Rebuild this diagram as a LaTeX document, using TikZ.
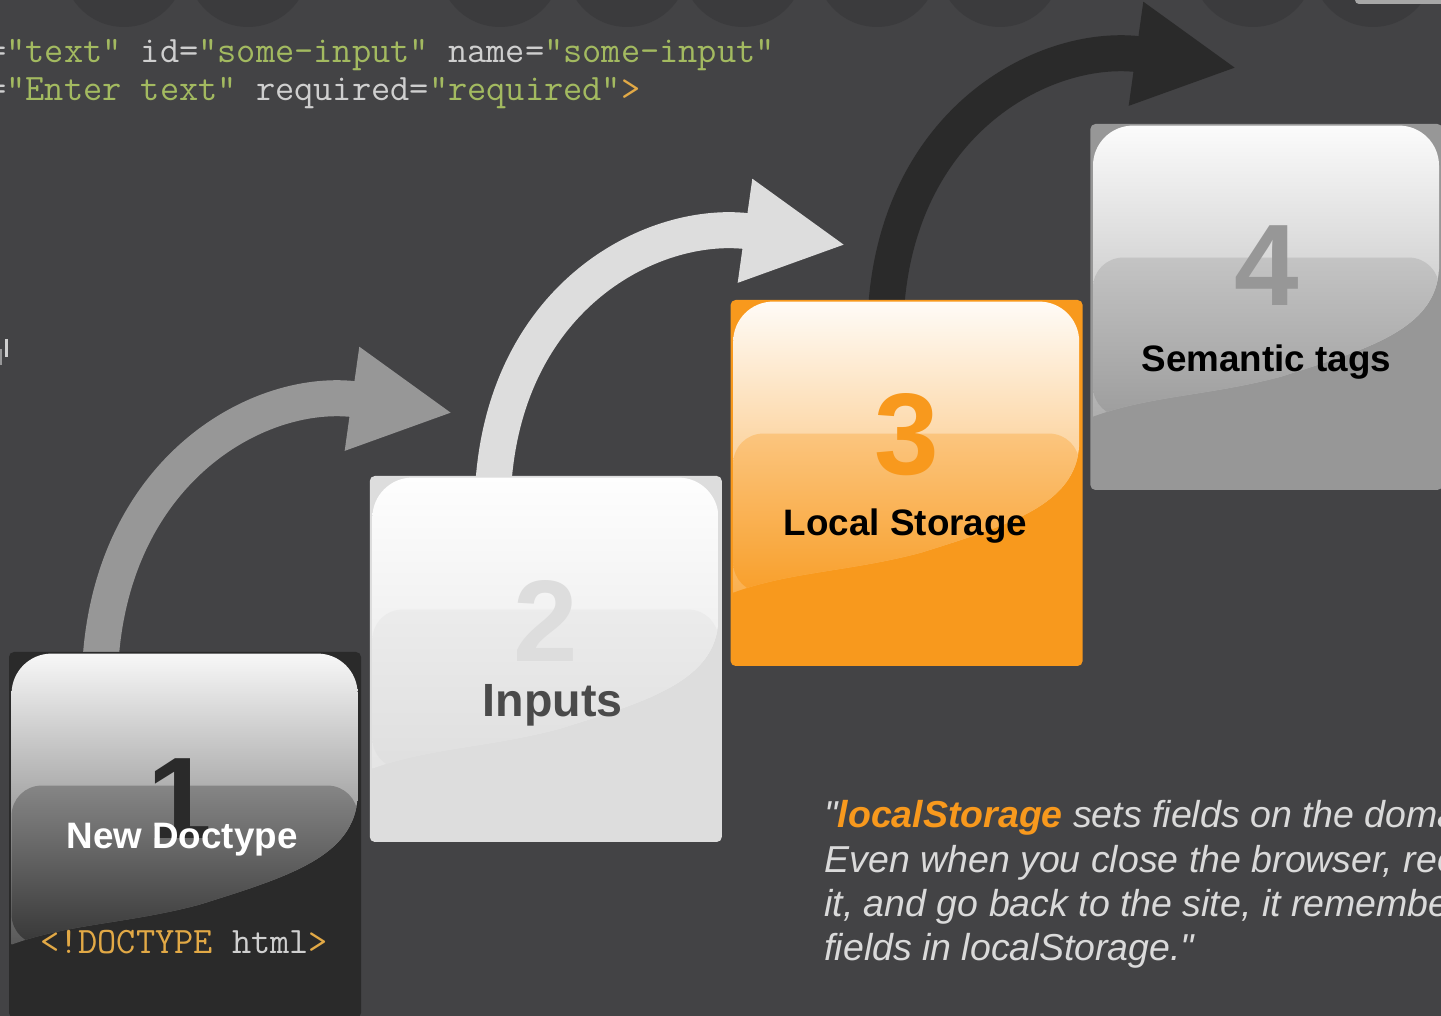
\documentclass[tikz,border=0pt]{standalone}
\usepackage{fontspec}
\setmainfont{Liberation Sans}
\usetikzlibrary{positioning,arrows.meta,backgrounds}

\definecolor{bgcol}{HTML}{434345}
\definecolor{dotcol}{HTML}{3B3B3D}
\definecolor{boxdark}{HTML}{2A2A2A}
\definecolor{boxlight}{HTML}{DDDDDD}
\definecolor{boxorange}{HTML}{F8991D}
\definecolor{boxgrey}{HTML}{979797}
\definecolor{codegreen}{HTML}{A3BA60}
\definecolor{codeattr}{HTML}{CFCFCF}
\definecolor{codetag}{HTML}{E2A946}
\definecolor{quotecol}{HTML}{DADADA}

\newcommand{\boxgloss}[2]{%
  \begin{scope}[shift={(#1.north west)}]
    \path[clip] (3,-293) -- (3,-42) arc[start angle=180,end angle=90,radius=40]
      -- (309,-2) arc[start angle=90,end angle=0,radius=40]
      -- (349,-145) .. controls (346,-205) and (280,-225) .. (191,-253)
      .. controls (120,-272) and (60,-272) .. (3,-293) -- cycle;
    \shade[top color=white!97!#2, bottom color=white!22!#2] (0,0) rectangle (352,-293);
    \shade[top color=white!43!#2, bottom color=white!6!#2, rounded corners=15pt] (3,-293) rectangle (349,-134);
  \end{scope}}

\tikzset{
  stepbox/.style={minimum width=176pt, minimum height=183pt, inner sep=0pt, rounded corners=2.5pt},
  digit/.style={anchor=base, inner sep=0pt, font=\fontsize{58}{60}\selectfont\bfseries},
  steplabel/.style={anchor=base, inner sep=0pt, font=\fontsize{18.4}{22}\selectfont\bfseries},
  code/.style={anchor=base west, inner sep=0pt, text=codeattr, font=\fontsize{18.65}{22}\selectfont\ttfamily},
  quoteline/.style={anchor=base west, inner sep=0pt, text=quotecol, font=\fontsize{18.75}{22}\selectfont\itshape},
  flow/.style={line width=18pt, -{Triangle[length=51pt,width=48.5pt]}},
}

\begin{document}
\begin{tikzpicture}[x=0.5pt, y=0.5pt]
  \useasboundingbox (0,0) rectangle (1441,1016);
  \begin{pgfonlayer}{background}
    \fill[bgcol] (0,0) rectangle (1441,1016);
    \foreach \cx in {124,248,500,627,743,877,1000,1253,1373}
      \fill[dotcol] (\cx,1050) circle[radius=61];
    \fill[boxgrey!85!white, rounded corners=2pt] (1355,1012) rectangle (1450,1022);
    \fill[codeattr] (5,659) rectangle (8,677);
    \fill[codeattr!60!bgcol] (0,651) rectangle (1.5,667);
  \end{pgfonlayer}

  \node[code] (code1) at (-13.2,953) {=\textcolor{codegreen}{"text"} id=\textcolor{codegreen}{"some-input"} name=\textcolor{codegreen}{"some-input"}};
  \node[code] (code2) at (-13.2,915) {=\textcolor{codegreen}{"Enter text"} required=\textcolor{codegreen}{"required"}\textcolor{codetag}{>}};

  \node[stepbox, fill=boxdark] (box1) at (185,181) {};
  \boxgloss{box1}{boxdark}
  \node[digit, text=boxdark] (num1) at ([shift={(-5,-187)}]box1.north) {1};
  \node[steplabel, text=white] (lab1) at ([shift={(-3,-197)}]box1.north) {New Doctype};
  \node[code] (doctype) at ([shift={(31,-302)}]box1.north west) {\textcolor{codetag}{<!DOCTYPE} html\textcolor{codetag}{>}};

  \node[stepbox, fill=boxlight, right=4pt of box1, yshift=88pt] (box2) {};
  \boxgloss{box2}{boxlight}
  \node[digit, text=boxlight] (num2) at ([shift={(0,-186)}]box2.north) {2};
  \node[steplabel, text=boxdark!85!white, font=\fontsize{23.3}{26}\selectfont\bfseries] (lab2) at ([shift={(7,-241)}]box2.north) {Inputs};

  \node[stepbox, fill=boxorange, right=4pt of box2, yshift=88pt] (box3) {};
  \boxgloss{box3}{boxorange}
  \node[digit, text=boxorange] (num3) at ([shift={(0,-175)}]box3.north) {3};
  \node[steplabel, text=black] (lab3) at ([shift={(-1,-236)}]box3.north) {Local Storage};

  \node[stepbox, fill=boxgrey, right=3.5pt of box3, yshift=88pt] (box4) {};
  \boxgloss{box4}{boxgrey}
  \node[digit, text=boxgrey] (num4) at ([shift={(0,-182)}]box4.north) {4};
  \node[steplabel, text=black] (lab4) at ([shift={(0,-248)}]box4.north) {Semantic tags};

  \coordinate (t1) at (453,603);
  \coordinate (t2) at (846,771);
  \coordinate (t3) at (1237,948);
  \begin{pgfonlayer}{background}
    \draw[flow, color=boxgrey] ([shift={(92,-8)}]box1.north west) to[out=86,in=172,looseness=1.15] (t1);
    \draw[flow, color=boxlight] ([shift={(124,-8)}]box2.north west) to[out=86,in=172,looseness=1.15] (t2);
    \draw[flow, color=boxdark] ([shift={(156,-8)}]box3.north west) to[out=86,in=172,looseness=1.15] (t3);
  \end{pgfonlayer}

  \node[quoteline] (q1) at (824,188) {\textquotedbl\textbf{\textcolor{boxorange}{localStorage}} sets fields on the doma};
  \node[quoteline] (q2) at (824,143) {Even when you close the browser, reo};
  \node[quoteline] (q3) at (824,99) {it, and go back to the site, it remembe};
  \node[quoteline] (q4) at (824,55) {fields in localStorage.\textquotedbl};
\end{tikzpicture}
\end{document}
